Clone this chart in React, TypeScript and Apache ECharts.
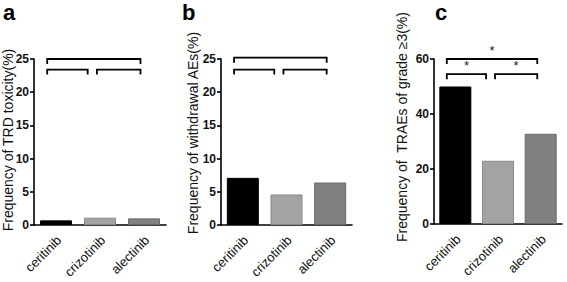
import React, { useEffect, useRef } from "react";
import * as echarts from "echarts";

const categories = ["ceritinib", "crizotinib", "alectinib"];
const trdToxicity = [0.7, 1.1, 1.0];
const withdrawalAEs = [7.1, 4.6, 6.4];
const traesGrade3 = [50, 23, 32.8];
const barColors = ["#000000", "#a3a3a3", "#808080"];
const barBorders = ["#000000", "#8a8a8a", "#6a6a6a"];

const ticksA = [0, 5, 10, 15, 20, 25];
const ticksB = [0, 5, 10, 15, 20, 25];
const ticksC = [0, 20, 40, 60];

// brackets: [fromIndex, toIndex, yValue, label]
const bracketsA: [number, number, number, string][] = [
  [0, 2, 25, ""],
  [0, 1, 23.4, ""],
  [1, 2, 23.4, ""],
];
const bracketsB: [number, number, number, string][] = [
  [0, 2, 25.2, ""],
  [0, 1, 23.4, ""],
  [1, 2, 23.4, ""],
];
const bracketsC: [number, number, number, string][] = [
  [0, 2, 60, "*"],
  [0, 1, 54.5, "*"],
  [1, 2, 54.5, "*"],
];

const panelLetters = ["a", "b", "c"];
const yTitles = [
  "Frequency of TRD toxicity(%)",
  "Frequency of withdrawal AEs(%)",
  "Frequency of  TRAEs of grade \u22653(%)",
];

const FONT = "'Liberation Sans', Arial, sans-serif";

export default function App() {
  const ref = useRef<HTMLDivElement>(null);
  useEffect(() => {
    if (!ref.current) return;
    const chart = echarts.init(ref.current, null, { renderer: "svg" });

    const grids = [
      { left: 34, top: 59, width: 132, height: 166 },
      { left: 221, top: 59, width: 131, height: 166 },
      { left: 434, top: 59, width: 128, height: 165 },
    ];
    const valuesList = [trdToxicity, withdrawalAEs, traesGrade3];
    const bracketList = [bracketsA, bracketsB, bracketsC];
    const tickList = [ticksA, ticksB, ticksC];

    const xAxis = grids.map((_, i) => ({
      type: "category",
      gridIndex: i,
      data: categories,
      axisLine: { lineStyle: { color: "#000", width: 1.6 } },
      axisTick: { alignWithLabel: true, length: 4, lineStyle: { color: "#000", width: 1.6 } },
      axisLabel: { show: false },
    }));
    const yAxis = grids.map((_, i) => {
      const t = tickList[i];
      return {
        type: "value",
        gridIndex: i,
        min: t[0],
        max: t[t.length - 1],
        interval: t[1] - t[0],
        axisLine: { show: true, lineStyle: { color: "#000", width: 1.6 } },
        axisTick: { show: true, length: 4, lineStyle: { color: "#000", width: 1.6 } },
        axisLabel: { show: false },
        splitLine: { show: false },
      };
    });

    const barSeries = valuesList.map((vals, i) => ({
      type: "bar",
      xAxisIndex: i,
      yAxisIndex: i,
      barWidth: 32,
      data: vals.map((v, k) => ({
        value: v,
        itemStyle: { color: barColors[k], borderColor: barBorders[k], borderWidth: 1 },
      })),
    }));

    const xLabelSeries = grids.map((_, i) => ({
      type: "custom",
      xAxisIndex: i,
      yAxisIndex: i,
      silent: true,
      data: categories.map((c, k) => [k, 0]),
      renderItem: (params: any, api: any) => {
        const p = api.coord([api.value(0), 0]);
        return {
          type: "text",
          x: p[0] + 3,
          y: p[1] + 13,
          rotation: Math.PI / 4,
          style: {
            text: categories[params.dataIndex],
            align: "right",
            verticalAlign: "middle",
            fontSize: 13,
            fontFamily: FONT,
            fill: "#111",
          },
        };
      },
    }));

    const yLabelSeries = tickList.map((ticks, i) => ({
      type: "custom",
      xAxisIndex: i,
      yAxisIndex: i,
      silent: true,
      data: ticks.map((v) => [0, v]),
      renderItem: (params: any, api: any) => {
        const p = api.coord([0, api.value(1)]);
        return {
          type: "text",
          x: params.coordSys.x - 5,
          y: p[1],
          style: {
            text: String(ticks[params.dataIndex]),
            align: "right",
            verticalAlign: "middle",
            fontSize: 12,
            fontWeight: "bold",
            fontFamily: FONT,
            fill: "#111",
          },
        };
      },
    }));

    const bracketSeries = bracketList.map((br, i) => ({
      type: "custom",
      xAxisIndex: i,
      yAxisIndex: i,
      z: 10,
      silent: true,
      data: br.map((b) => [b[0], b[1], b[2]]),
      renderItem: (params: any, api: any) => {
        const from = api.value(0);
        const to = api.value(1);
        const yv = api.value(2);
        const label = br[params.dataIndex][3];
        const band = api.size([1, 0])[0];
        const p1 = api.coord([from, yv]);
        const p2 = api.coord([to, yv]);
        const x1 = p1[0] - 0.2 * band + (from > 0 ? 0.13 * band : 0);
        const x2 = p2[0] - 0.08 * band - (to < 2 ? 0.2 * band : 0);
        const y = p1[1];
        const leg = 5;
        const children: any[] = [
          {
            type: "polyline",
            shape: { points: [[x1, y + leg], [x1, y], [x2, y], [x2, y + leg]] },
            style: { stroke: "#000", lineWidth: 1.8, fill: null },
          },
        ];
        if (label) {
          children.push({
            type: "text",
            style: {
              text: label,
              x: (x1 + x2) / 2,
              y: y - 2,
              align: "center",
              verticalAlign: "bottom",
              fontSize: 13,
              fontFamily: FONT,
              fill: "#222",
            },
          });
        }
        return { type: "group", children };
      },
    }));

    const letterX = [3, 182, 435];
    const titleX = [8, 193, 402];
    const titleY = [140, 133, 127];
    chart.setOption({
      animation: false,
      grid: grids,
      xAxis,
      yAxis,
      series: [...barSeries, ...bracketSeries, ...xLabelSeries, ...yLabelSeries],
      graphic: [
        ...panelLetters.map((l, i) => ({
          type: "text",
          left: letterX[i],
          top: 1,
          style: { text: l, fontSize: 22, fontWeight: "bold", fontFamily: FONT, fill: "#000" },
        })),
        ...yTitles.map((t, i) => ({
          type: "text",
          x: titleX[i],
          y: titleY[i],
          rotation: Math.PI / 2,
          style: {
            text: t,
            align: "center",
            verticalAlign: "middle",
            fontSize: 14,
            fontFamily: FONT,
            fill: "#111",
          },
        })),
      ],
    });
    return () => chart.dispose();
  }, []);
  return <div ref={ref} style={{ width: 567, height: 282, position: "absolute", left: 0, top: 0 }} />;
}
